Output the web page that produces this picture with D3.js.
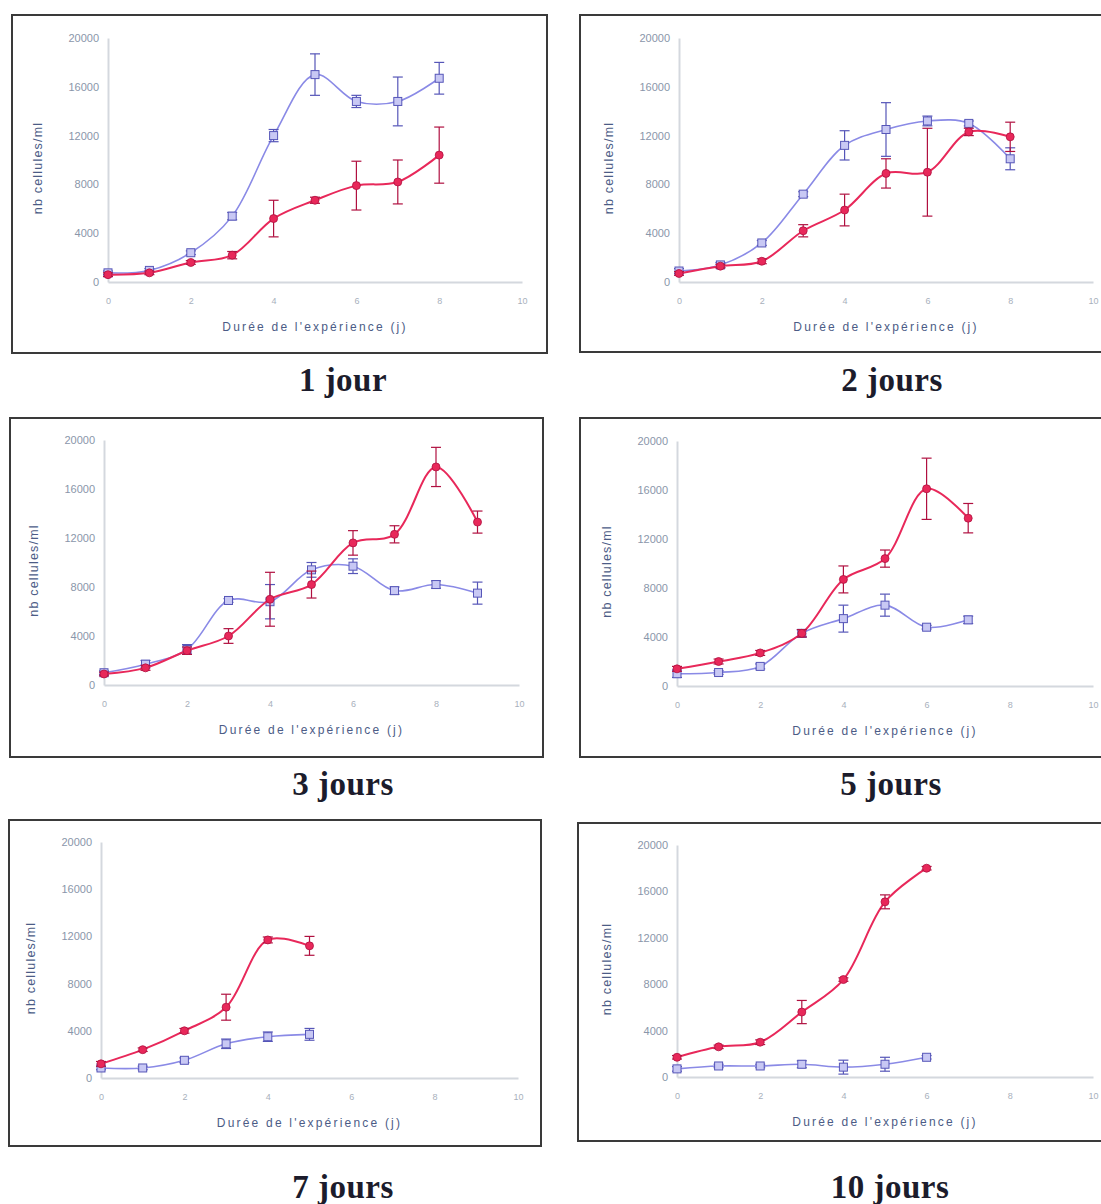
<!DOCTYPE html>
<html>
<head>
<meta charset="utf-8">
<script src="https://cdn.jsdelivr.net/npm/d3@7"></script>
<style>
body{margin:0;background:#fff;}
svg{display:block;}
</style>
</head>
<body>
<svg id="fig" width="1101" height="1204"></svg>
<script>
// valeurs (nb cellules/ml)
var titles = ["1 jour", "2 jours", "3 jours", "5 jours", "7 jours", "10 jours"];
var yTicks = [0, 4000, 8000, 12000, 16000, 20000];
var xTicks = [0, 2, 4, 6, 8, 10];

var blue1 = [750, 950, 2400, 5400, 12000, 17000, 14800, 14800, 16700];
var blue1Err = [150, 150, 150, 300, 500, 1700, 500, 2000, 1300];
var red1 = [600, 750, 1600, 2200, 5200, 6700, 7900, 8200, 10400];
var red1Err = [150, 150, 150, 300, 1500, 250, 2000, 1800, 2300];

var blue2 = [900, 1400, 3200, 7200, 11200, 12500, 13200, 13000, 10100];
var blue2Err = [200, 200, 200, 200, 1200, 2200, 400, 200, 900];
var red2 = [700, 1300, 1700, 4200, 5900, 8900, 9000, 12300, 11900];
var red2Err = [150, 150, 200, 500, 1300, 1200, 3600, 300, 1200];

var blue3 = [1000, 1700, 2900, 6900, 6800, 9400, 9700, 7700, 8200, 7500];
var blue3Err = [150, 300, 400, 150, 1400, 600, 600, 300, 300, 900];
var red3 = [900, 1400, 2800, 4000, 7000, 8200, 11600, 12300, 17800, 13300];
var red3Err = [150, 200, 300, 600, 2200, 1100, 1000, 700, 1600, 900];

var blue5 = [1000, 1100, 1600, 4300, 5500, 6600, 4800, 5400];
var blue5Err = [300, 150, 200, 300, 1100, 900, 150, 300];
var red5 = [1400, 2000, 2700, 4300, 8700, 10400, 16100, 13700];
var red5Err = [200, 200, 200, 300, 1100, 700, 2500, 1200];

var blue7 = [850, 850, 1500, 2900, 3500, 3700];
var blue7Err = [150, 150, 200, 400, 400, 500];
var red7 = [1200, 2400, 4000, 6000, 11700, 11200];
var red7Err = [200, 150, 200, 1100, 250, 800];

var blue10 = [700, 950, 950, 1100, 850, 1100, 1700];
var blue10Err = [200, 150, 150, 300, 600, 600, 150];
var red10 = [1700, 2600, 3000, 5600, 8400, 15100, 18000];
var red10Err = [150, 150, 200, 1000, 150, 600, 150];

var seriesBlue = [blue1, blue2, blue3, blue5, blue7, blue10];
var seriesBlueErr = [blue1Err, blue2Err, blue3Err, blue5Err, blue7Err, blue10Err];
var seriesRed = [red1, red2, red3, red5, red7, red10];
var seriesRedErr = [red1Err, red2Err, red3Err, red5Err, red7Err, red10Err];

// mise en page des panneaux
var layout = [
  {box:[12,15,535,338], x0:108, x1:522, y0:282, y1:38, tx:343, ty:391},
  {box:[580,15,540,337], x0:679, x1:1093, y0:282, y1:38, tx:892, ty:391},
  {box:[10,418,533,339], x0:104, x1:519, y0:685, y1:440, tx:343, ty:795},
  {box:[580,418,540,339], x0:677, x1:1093, y0:686, y1:441, tx:891, ty:795},
  {box:[9,820,532,326], x0:101, x1:518, y0:1078, y1:842, tx:343, ty:1198},
  {box:[578,823,540,318], x0:677, x1:1093, y0:1077, y1:845, tx:890, ty:1198}
];

var blueCol = "#8a8ae6", blueDark = "#5656b8";
var redCol = "#e8285a", redDark = "#b01040";
var tickCol = "#8a96aa", labCol = "#4c5c86";
var sans = "Arial, 'Liberation Sans', sans-serif";

var svg = d3.select("#fig");

layout.forEach(function(L, p){
  var g = svg.append("g");
  var x = d3.scaleLinear().domain([0,10]).range([L.x0, L.x1]);
  var y = d3.scaleLinear().domain([0,20000]).range([L.y0, L.y1]);

  g.append("rect")
    .attr("x", L.box[0]).attr("y", L.box[1])
    .attr("width", L.box[2]).attr("height", L.box[3])
    .attr("fill", "#fff").attr("stroke", "#3a3a3a").attr("stroke-width", 2);

  // axes
  var ya = g.append("g").attr("transform", "translate(" + L.x0 + ",0)")
    .call(d3.axisLeft(y).tickValues(yTicks).tickSize(0).tickPadding(9).tickFormat(d3.format("d")));
  ya.select(".domain").attr("stroke", "#d4d8de").attr("stroke-width", 2);
  ya.selectAll("text").attr("fill", tickCol).style("font-family", sans).style("font-size", "11px");

  var xa = g.append("g").attr("transform", "translate(0," + L.y0 + ")")
    .call(d3.axisBottom(x).tickValues(xTicks).tickSize(0).tickPadding(16));
  xa.select(".domain").attr("stroke", "#d4d8de").attr("stroke-width", 2);
  xa.selectAll("text").attr("fill", "#a8b0bc").style("font-family", sans).style("font-size", "9px");

  g.append("text")
    .attr("x", (L.x0 + L.x1) / 2).attr("y", L.y0 + 49)
    .attr("text-anchor", "middle").attr("fill", labCol)
    .style("font-family", sans).style("font-size", "12px")
    .style("letter-spacing", "2.2px")
    .text("Durée de l'expérience (j)");

  g.append("text")
    .attr("transform", "translate(" + (L.x0 - 66) + "," + ((L.y0 + L.y1) / 2 + 8) + ") rotate(-90)")
    .attr("text-anchor", "middle").attr("fill", labCol)
    .style("font-family", sans).style("font-size", "12.5px")
    .style("letter-spacing", "1.2px")
    .text("nb cellules/ml");

  var line = d3.line()
    .x(function(d, i){ return x(i); })
    .y(function(d){ return y(d); })
    .curve(d3.curveCatmullRom.alpha(0.5));

  function drawSeries(vals, errs, col, dark, isRed){
    var s = g.append("g");
    s.append("path").datum(vals).attr("d", line)
      .attr("fill", "none").attr("stroke", col).attr("stroke-width", isRed ? 2 : 1.6);
    var eb = s.selectAll(".eb").data(vals).enter().append("g");
    eb.append("line")
      .attr("x1", function(d, i){ return x(i); }).attr("x2", function(d, i){ return x(i); })
      .attr("y1", function(d, i){ return y(d - errs[i]); })
      .attr("y2", function(d, i){ return y(d + errs[i]); })
      .attr("stroke", dark).attr("stroke-width", 1.2);
    [-1, 1].forEach(function(sg){
      eb.append("line")
        .attr("x1", function(d, i){ return x(i) - 5; }).attr("x2", function(d, i){ return x(i) + 5; })
        .attr("y1", function(d, i){ return y(d + sg * errs[i]); })
        .attr("y2", function(d, i){ return y(d + sg * errs[i]); })
        .attr("stroke", dark).attr("stroke-width", 1.2);
    });
    if (isRed) {
      s.selectAll(".pt").data(vals).enter().append("circle")
        .attr("cx", function(d, i){ return x(i); }).attr("cy", function(d){ return y(d); })
        .attr("r", 4).attr("fill", col).attr("stroke", dark).attr("stroke-width", 0.8);
    } else {
      s.selectAll(".pt").data(vals).enter().append("rect")
        .attr("x", function(d, i){ return x(i) - 4; }).attr("y", function(d){ return y(d) - 4; })
        .attr("width", 8).attr("height", 8)
        .attr("fill", "#c8c8f4").attr("stroke", blueDark).attr("stroke-width", 1);
    }
  }

  drawSeries(seriesBlue[p], seriesBlueErr[p], blueCol, blueDark, false);
  drawSeries(seriesRed[p], seriesRedErr[p], redCol, redDark, true);

  svg.append("text")
    .attr("x", L.tx).attr("y", L.ty)
    .attr("text-anchor", "middle").attr("fill", "#1c1c2c")
    .style("font-family", "'Liberation Serif', 'Times New Roman', serif")
    .style("font-weight", "bold").style("font-size", "33px")
    .style("letter-spacing", "0.5px")
    .text(titles[p]);
});
</script>
</body>
</html>
